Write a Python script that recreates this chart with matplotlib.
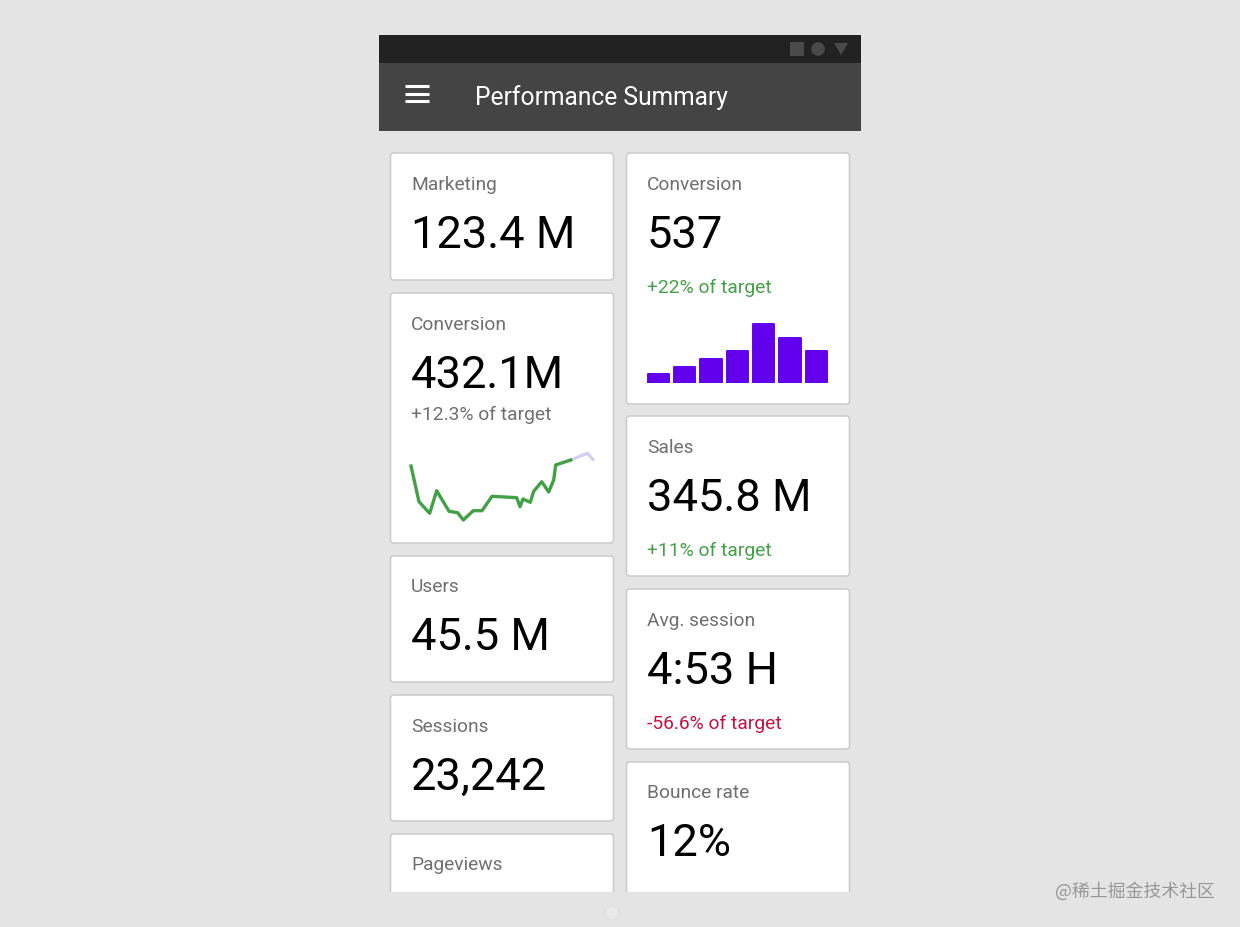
import matplotlib
matplotlib.use("Agg")
import matplotlib.pyplot as plt
from matplotlib.patches import FancyBboxPatch, Rectangle, Circle, Polygon

plt.rcParams["font.family"] = ["Roboto", "DejaVu Sans"]

W, H = 1240, 927
BG = "#e4e4e4"
GREEN = "#43a047"
RED = "#c2123f"
GREY = "#6f6f6f"
PURPLE = "#6200ee"

# Cards: column, top, bottom, label, value, note, note colour
left_labels = ["Marketing", "Conversion", "Users", "Sessions", "Pageviews"]
left_values = ["123.4 M", "432.1M", "45.5 M", "23,242", ""]
left_tops = [153, 293, 556, 695, 834]
left_bottoms = [280, 543, 682, 821, 960]

right_labels = ["Conversion", "Sales", "Avg. session", "Bounce rate"]
right_values = ["537", "345.8 M", "4:53 H", "12%"]
right_tops = [153, 416, 589, 762]
right_bottoms = [404, 576, 749, 960]
right_notes = ["+22% of target", "+11% of target", "-56.6% of target", ""]
right_note_colors = [GREEN, GREEN, RED, GREEN]

# Sparkline values
line_x = [16, 24, 34.7, 41.7, 54, 62.7, 68.3, 78.3, 87, 97, 121.7, 125, 128, 135.3,
          138.7, 146.7, 153.7, 158.7, 160.7, 175.7]
line_y = [74, 38.3, 26.7, 49.3, 28.7, 27.3, 20, 29.3, 29.3, 43.7, 42.3, 33.3, 41,
          37.7, 48.7, 58.3, 48, 60, 75, 80]
faded_x = [175.7, 192.3, 197.7]
faded_y = [80, 86.7, 80.7]

# Bar heights
bar_heights = [9, 15.7, 23.7, 32, 58.7, 45.3, 32]

fig = plt.figure(figsize=(W / 100, H / 100), dpi=100, facecolor=BG)
ax = fig.add_axes([0, 0, 1, 1])
ax.set_xlim(0, W)
ax.set_ylim(H, 0)
ax.axis("off")

# App bars
ax.add_patch(Rectangle((379, 35), 482, 28, fc="#222222", ec="none"))
ax.add_patch(Rectangle((379, 63), 482, 68, fc="#444444", ec="none"))
ax.add_patch(Rectangle((790, 42), 14, 14, fc="#4a4a4a", ec="none"))
ax.add_patch(Circle((818, 49), 6.8, fc="#4a4a4a", ec="none"))
ax.add_patch(Polygon([(834, 43), (848, 43), (841, 55)], fc="#4a4a4a", ec="none"))
for y in [86, 93.5, 101]:
    ax.plot([404.5, 429], [y, y], color="white", lw=2.2, solid_capstyle="butt")
ax.text(475, 97.5, "Performance Summary", color="white", fontsize=17.7, va="center")

clip = Rectangle((379, 131), 482, 761, transform=ax.transData)


def draw_card(x0, top, bottom, label, value, note="", note_color=GREEN):
    card = FancyBboxPatch((x0 + 3.5, top + 3), 217, bottom - top - 6,
                          boxstyle="round,pad=3", fc="white", ec="#cacaca", lw=1.1)
    ax.add_patch(card)
    card.set_clip_path(clip)
    ax.text(x0 + 21, top + 31.5, label, color=GREY, fontsize=13.8, va="center")
    if value:
        ax.text(x0 + 21, top + 82.5, value, color="black", fontsize=32.6, va="center")
    if note:
        ax.text(x0 + 21, top + 134.5, note, color=note_color, fontsize=13.9, va="center")


for label, value, top, bottom in zip(left_labels, left_values, left_tops, left_bottoms):
    draw_card(390, top, bottom, label, value)
ax.text(411, 415, "+12.3% of target", color=GREY, fontsize=13.9, va="center")

for label, value, top, bottom, note, color in zip(right_labels, right_values, right_tops,
                                                  right_bottoms, right_notes, right_note_colors):
    draw_card(626, top, bottom, label, value, note, color)

# Sparkline
ax_line = fig.add_axes([395 / W, 1 - 540 / H, 215 / W, 110 / H])
ax_line.set_xlim(0, 215)
ax_line.set_ylim(0, 110)
ax_line.axis("off")
ax_line.plot(faded_x, faded_y, color="#d6d0ee", lw=2.4, solid_joinstyle="round")
ax_line.plot(line_x, line_y, color=GREEN, lw=2.4, solid_joinstyle="round")

# Bars
ax_bar = fig.add_axes([646.7 / W, 1 - 383 / H, 181.3 / W, 70 / H])
ax_bar.set_xlim(-0.442, 6.442)
ax_bar.set_ylim(0, 70)
ax_bar.axis("off")
ax_bar.bar(range(len(bar_heights)), bar_heights, width=0.81, color=PURPLE,
           edgecolor=PURPLE, lw=1.4, joinstyle="round")

# Bottom strip and watermark
ax.add_patch(Circle((612, 913), 7, fc="#e9e9e9", ec="#e0e0e0", lw=1))
ax.text(1215, 891, "@稀土掘金技术社区", color="#979797", fontsize=12.9, ha="right", va="center",
        family=["Noto Sans CJK SC", "DejaVu Sans"])

fig.savefig("out.png", dpi=100, facecolor=BG)
